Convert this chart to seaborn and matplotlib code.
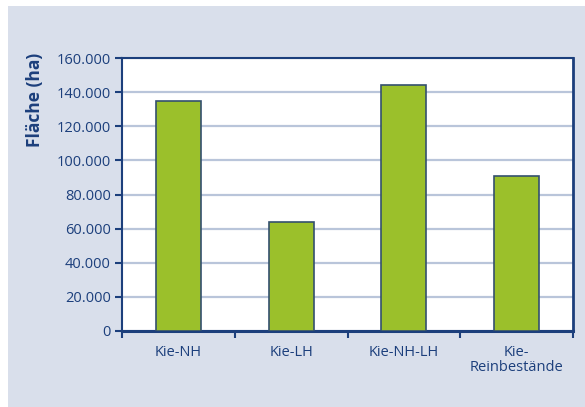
import matplotlib
matplotlib.use("Agg")
import matplotlib.pyplot as plt
from matplotlib.patches import Rectangle
from matplotlib.ticker import FixedLocator, FuncFormatter
import seaborn as sns
import pandas as pd

categories = ["Kie-NH", "Kie-LH", "Kie-NH-LH", "Kie-\nReinbestände"]
flaeche_ha = [135000, 64000, 144000, 91000]
y_ticks = [0, 20000, 40000, 60000, 80000, 100000, 120000, 140000, 160000]

navy = "#1c3f7c"
panel = "#d9dfeb"
grid = "#b9c5da"
green = "#9bc02b"
edge = "#34506e"

sns.set_theme(style="white")
plt.rcParams["font.family"] = ["Open Sans", "DejaVu Sans"]

W, H = 585, 407
fig = plt.figure(figsize=(W / 100, H / 100), dpi=100)
fig.patch.set_facecolor("white")
fig.add_artist(Rectangle((8 / W, 0), 1 - 8 / W, 1 - 6 / H,
                         transform=fig.transFigure, facecolor=panel,
                         edgecolor="none", zorder=0))

ax = fig.add_axes([122 / W, 1 - 331 / H, (573 - 122) / W, (331 - 58) / H])
ax.set_facecolor("white")

df = pd.DataFrame({"Kategorie": categories, "Fläche": flaeche_ha})
sns.barplot(data=df, x="Kategorie", y="Fläche", ax=ax, color=green,
            width=0.4, edgecolor=edge, linewidth=1.2, saturation=1, zorder=3)

ax.set_xlim(-0.5, len(categories) - 0.5)
ax.set_ylim(0, 160000)
ax.yaxis.set_major_locator(FixedLocator(y_ticks))
ax.yaxis.set_major_formatter(FuncFormatter(lambda v, p: f"{int(v):,}".replace(",", ".")))
ax.grid(axis="y", color=grid, linewidth=1.6, zorder=0)
ax.set_axisbelow(True)

ax.set_xticks(range(len(categories)))
ax.set_xticklabels(categories, color=navy, fontsize=10.5, linespacing=1.05)
ax.tick_params(axis="x", which="major", length=0, pad=10)
ax.xaxis.set_minor_locator(FixedLocator([i - 0.5 for i in range(len(categories) + 1)]))
ax.tick_params(axis="x", which="minor", length=5, width=1.5, color=navy, direction="out",
               bottom=True)
ax.tick_params(axis="y", length=5, width=1.5, color=navy, direction="out", left=True,
               labelsize=10.5, labelcolor=navy, pad=3)

ax.set_xlabel("")
ax.set_ylabel("")
for side in ["left", "top"]:
    ax.spines[side].set_color(navy)
    ax.spines[side].set_linewidth(1.5)
ax.spines["right"].set_color(navy)
ax.spines["right"].set_linewidth(2)
ax.spines["bottom"].set_color(navy)
ax.spines["bottom"].set_linewidth(2.2)

fig.text(35 / W, 1 - 100 / H, "Fläche (ha)", rotation=90, ha="center", va="center",
         color=navy, fontsize=12.5, fontweight="bold")

fig.savefig("out.png", dpi=100)
